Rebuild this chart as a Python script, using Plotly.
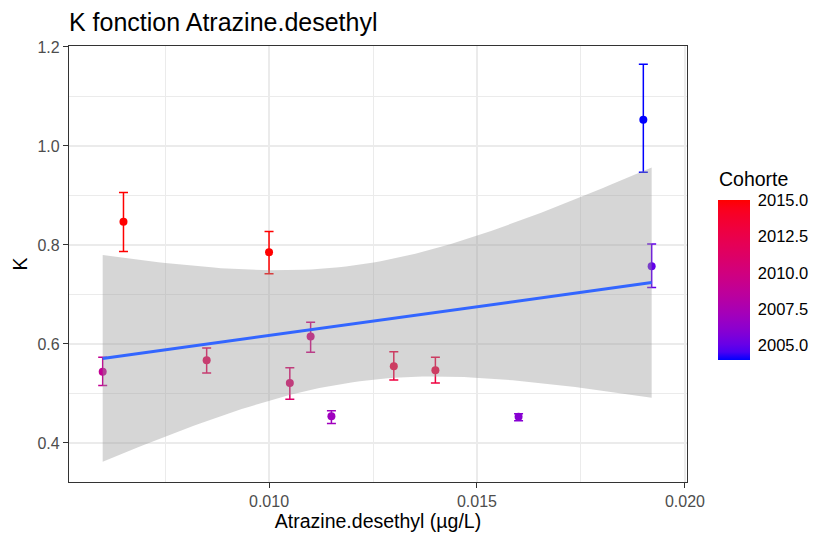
import numpy as np
import plotly.graph_objects as go

# Per-cohort mean K vs Atrazine.desethyl concentration, with error bar bounds
conc = [0.0060, 0.0065, 0.0085, 0.0100, 0.0105, 0.0110, 0.0115, 0.0130, 0.0140, 0.0160, 0.0190, 0.0192]
k_mean = [0.544, 0.847, 0.567, 0.785, 0.521, 0.615, 0.454, 0.555, 0.547, 0.453, 1.053, 0.757]
k_low = [0.516, 0.787, 0.541, 0.742, 0.488, 0.583, 0.439, 0.527, 0.521, 0.445, 0.947, 0.714]
k_high = [0.573, 0.906, 0.592, 0.827, 0.552, 0.644, 0.465, 0.584, 0.573, 0.459, 1.165, 0.802]
cohorte = [2009, 2015, 2012, 2015, 2011, 2010, 2007, 2013, 2013, 2006, 2004, 2005]

cb_ticks = [2005.0, 2007.5, 2010.0, 2012.5, 2015.0]
T_975_DF10 = 2.228  # t quantile for the 95% band (n - 2 = 10 dof)

FONT = "Liberation Sans, Arial, sans-serif"
LOW, HIGH = "#0000FF", "#FF0000"

# page geometry (px): panel spans x 69..687, y 46..482
W, H = 815, 537
ML, MT, MB, MR = 69, 46, 55, 0
PANEL_W = 618


def hex_to_lab(h):
    rgb = [int(h[i:i + 2], 16) / 255 for i in (1, 3, 5)]
    r, g, b = [c / 12.92 if c <= 0.04045 else ((c + 0.055) / 1.055) ** 2.4 for c in rgb]
    x = (0.4124 * r + 0.3576 * g + 0.1805 * b) / 0.95047
    y = 0.2126 * r + 0.7152 * g + 0.0722 * b
    z = (0.0193 * r + 0.1192 * g + 0.9505 * b) / 1.08883
    f = lambda t: t ** (1 / 3) if t > 0.008856 else 7.787 * t + 16 / 116
    fx, fy, fz = f(x), f(y), f(z)
    return 116 * fy - 16, 500 * (fx - fy), 200 * (fy - fz)


def lab_to_hex(L, a, b):
    fy = (L + 16) / 116
    fx, fz = fy + a / 500, fy - b / 200
    finv = lambda t: t ** 3 if t ** 3 > 0.008856 else (t - 16 / 116) / 7.787
    x, y, z = 0.95047 * finv(fx), finv(fy), 1.08883 * finv(fz)
    lin = [3.2406 * x - 1.5372 * y - 0.4986 * z,
           -0.9689 * x + 1.8758 * y + 0.0415 * z,
           0.0557 * x - 0.2040 * y + 1.0570 * z]
    out = []
    for c in lin:
        c = 12.92 * c if c <= 0.0031308 else 1.055 * c ** (1 / 2.4) - 0.055
        out.append(int(round(min(max(c, 0), 1) * 255)))
    return "#%02X%02X%02X" % tuple(out)


lab_lo, lab_hi = hex_to_lab(LOW), hex_to_lab(HIGH)


def gradient(t):
    # ggplot's scale_colour_gradient interpolates in Lab space
    return lab_to_hex(*[lo + (hi - lo) * t for lo, hi in zip(lab_lo, lab_hi)])


cmin, cmax = min(cohorte), max(cohorte)
colorscale = [[i / 20, gradient(i / 20)] for i in range(21)]
point_colors = [gradient((c - cmin) / (cmax - cmin)) for c in cohorte]

# linear fit + 95% confidence band (geom_smooth(method = "lm"))
x = np.array(conc)
y = np.array(k_mean)
n = len(x)
slope, intercept = np.polyfit(x, y, 1)
resid = y - (intercept + slope * x)
s = np.sqrt(np.sum(resid ** 2) / (n - 2))
sxx = np.sum((x - x.mean()) ** 2)
xs = np.linspace(x.min(), x.max(), 80)
fit = intercept + slope * xs
half = T_975_DF10 * s * np.sqrt(1 / n + (xs - x.mean()) ** 2 / sxx)

fig = go.Figure()

for xi, yi, lo, hi, col in zip(conc, k_mean, k_low, k_high, point_colors):
    fig.add_trace(go.Scatter(
        x=[xi], y=[yi], mode="markers",
        marker=dict(size=0.1, color=col, opacity=0),
        error_y=dict(type="data", symmetric=False, array=[hi - yi], arrayminus=[yi - lo],
                     color=col, thickness=1.5, width=4.5),
        showlegend=False, hoverinfo="skip",
    ))

paper_w = W - ML - MR
paper_h = H - MT - MB
cb_left = (718 - ML) / paper_w
fig.add_trace(go.Scatter(
    x=conc, y=k_mean, mode="markers",
    marker=dict(
        size=8, color=cohorte, colorscale=colorscale, cmin=cmin, cmax=cmax,
        showscale=True,
        colorbar=dict(
            tickvals=cb_ticks, tickformat=".1f",
            tickfont=dict(family=FONT, size=16.5, color="black"),
            # invisible outside ticks only to leave ggplot's gap before the labels
            ticks="outside", ticklen=5, tickcolor="rgba(255,255,255,0)",
            thickness=32, len=160, lenmode="pixels",
            x=cb_left, xanchor="left", y=(482 - 360) / paper_h, yanchor="bottom",
            xpad=0, ypad=0, outlinewidth=0,
        ),
    ),
    showlegend=False, name="K",
))

fig.add_trace(go.Scatter(
    x=np.concatenate([xs, xs[::-1]]), y=np.concatenate([fit + half, (fit - half)[::-1]]),
    fill="toself", fillcolor="rgba(153,153,153,0.4)", line=dict(width=0),
    mode="lines", showlegend=False, hoverinfo="skip",
))
fig.add_trace(go.Scatter(
    x=xs, y=fit, mode="lines", line=dict(color="#3366FF", width=3),
    showlegend=False, hoverinfo="skip",
))

# legend title as its own text so it can sit a little higher than plotly's colorbar title
fig.add_annotation(
    text="Cohorte", xref="paper", yref="paper",
    x=cb_left, y=(482 - 191) / paper_h, xanchor="left", yanchor="bottom",
    showarrow=False, font=dict(family=FONT, size=19.5, color="black"),
    borderpad=0,
)

axis_common = dict(
    showline=True, mirror=True, linecolor="#333333", linewidth=1.3,
    showgrid=True, gridcolor="#EBEBEB", gridwidth=1.5, zeroline=False,
    ticks="outside", ticklen=5, tickcolor="#333333", tickwidth=1.3,
    tickfont=dict(family=FONT, size=16, color="#4D4D4D"),
    automargin=False,
)

fig.update_layout(
    width=W, height=H,
    paper_bgcolor="white", plot_bgcolor="white",
    margin=dict(l=ML, r=MR, t=MT, b=MB),
    title=dict(text="K fonction Atrazine.desethyl", x=ML / W, xref="container", xanchor="left",
               y=1 - 22 / H, yanchor="middle", font=dict(family=FONT, size=25, color="black")),
    xaxis=dict(
        domain=[0, PANEL_W / paper_w],
        range=[0.00519, 0.02005], tick0=0, dtick=0.005, tickformat=".3f",
        minor=dict(showgrid=True, gridcolor="#EBEBEB", gridwidth=0.8, dtick=0.0025, tick0=0, ticks=""),
        title=dict(text="Atrazine.desethyl (µg/L)", font=dict(family=FONT, size=19.5, color="black"), standoff=2),
        **axis_common,
    ),
    yaxis=dict(
        range=[0.321, 1.202], tick0=0, dtick=0.2, tickformat=".1f",
        minor=dict(showgrid=True, gridcolor="#EBEBEB", gridwidth=0.8, dtick=0.1, tick0=0, ticks=""),
        title=dict(text="K", font=dict(family=FONT, size=19.5, color="black"), standoff=4),
        **axis_common,
    ),
)

fig.write_html("out.html", config={"displayModeBar": False},
               post_script="document.body.style.margin='0px';")
